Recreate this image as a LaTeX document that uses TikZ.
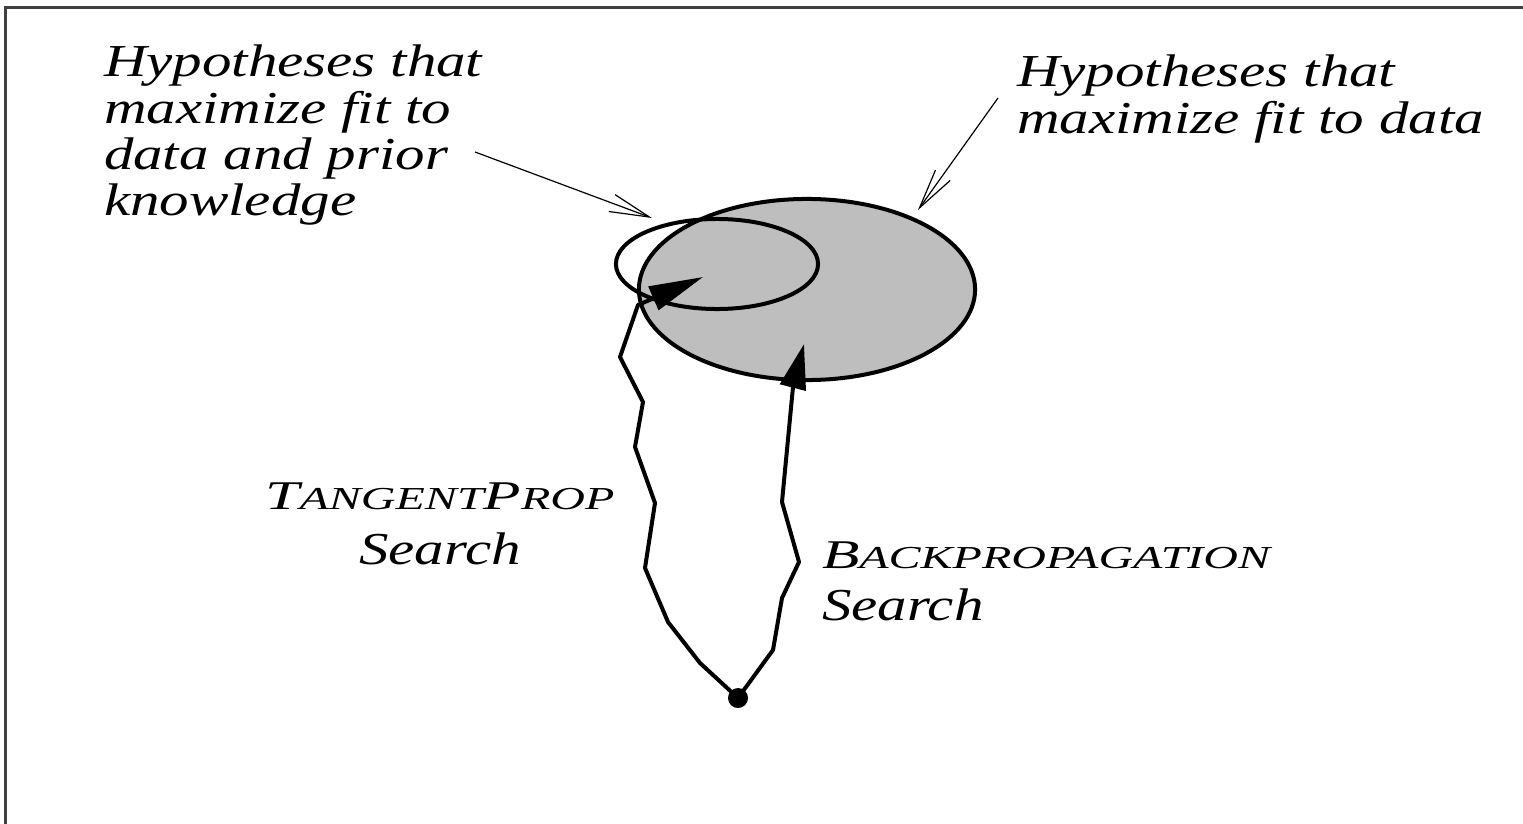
\documentclass[tikz,border=0pt]{standalone}
\usepackage{fontspec}
\usetikzlibrary{arrows.meta,shapes.geometric}
\newfontfamily\tfont{Liberation Serif}[FakeStretch=1.29]
\newfontfamily\scfont{Liberation Serif}[FakeStretch=1.5]
\newcommand\capbig[1]{{\scfont\itshape\fontsize{11.6}{13.1}\selectfont #1}}
\newcommand\capsmall[1]{{\scfont\itshape\fontsize{9.1}{13.1}\selectfont #1}}
\begin{document}
\begin{tikzpicture}[x=0.01cm,y=-0.01cm,
  txt/.style={font=\tfont\itshape\fontsize{13}{13.1}\selectfont, inner sep=0pt, outer sep=0pt},
  searchpath/.style={line width=0.4mm, line join=round},
  pointer/.style={line width=0.12mm, -{Straight Barb[length=4mm,width=1.8mm,line width=0.12mm]}},
  region/.style={ellipse, draw, line width=0.4mm, inner sep=0pt, outer sep=0pt}]
\useasboundingbox (0,0) rectangle (1523,824);
\draw[line width=0.2mm, black!75] (5.5,824) -- (5.5,7.5) -- (1523,7.5);

% regions
\node[region, fill={rgb,255:red,190;green,190;blue,190}, minimum width=3.36cm, minimum height=1.81cm] (fitdata) at (807,289.5) {};
\node[region, minimum width=2.02cm, minimum height=0.90cm] (fitprior) at (717,264) {};

% labels
\node[txt, anchor=base west] (lblprior) at (104,77)
  {\begin{tabular}[t]{@{}l@{}}Hypotheses that\\maximize fit to\\data and prior\\knowledge\end{tabular}};
\node[txt, anchor=base west] (lbldata) at (1017,87)
  {\begin{tabular}[t]{@{}l@{}}Hypotheses that\\maximize fit to data\end{tabular}};
\node[txt, anchor=base] (lbltp) at (440,509)
  {\begin{tabular}[t]{@{}c@{}}\capbig{T}\capsmall{ANGENT}\capbig{P}\capsmall{ROP}\\[0.9mm]Search\end{tabular}};
\node[txt, anchor=base west] (lblbp) at (822,568)
  {\begin{tabular}[t]{@{}l@{}}\capbig{B}\capsmall{ACKPROPAGATION}\\[0.6mm]Search\end{tabular}};

% start point
\node[circle, fill, inner sep=0pt, minimum size=2mm] (start) at (738,698) {};

% pointer arrows
\coordinate (ptrA) at (475,152);
\coordinate (ptrAend) at (652,218);
\coordinate (ptrB) at (998,98);
\coordinate (ptrBend) at (918,210);
\draw[pointer] (ptrA) -- (ptrAend);
\draw[pointer] (ptrB) -- (ptrBend);

% search paths
\coordinate (tptip) at (703,277);
\coordinate (bptip) at (804,344);
\draw[searchpath, -{Triangle[length=5.4mm,width=2.5mm]}]
  (start.center) -- (700,663) -- (668,622) -- (645,568) -- (655,503) -- (635,447)
  -- (643,402) -- (620,357) -- (638,305) -- (tptip);
\draw[searchpath, -{Triangle[length=4.5mm,width=2.6mm]}]
  (start.center) -- (773,650) -- (782,598) -- (799,562) -- (782,502) -- (793,387) -- (bptip);
\end{tikzpicture}
\end{document}
